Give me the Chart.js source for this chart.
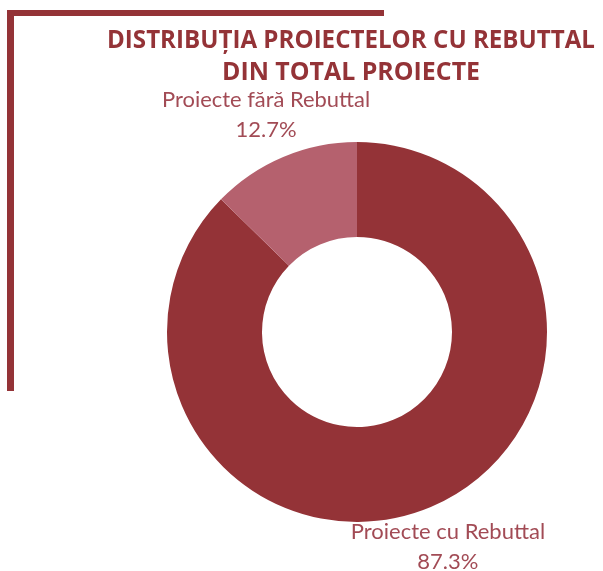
<!DOCTYPE html>
<html>
<head>
<meta charset="utf-8">
<script src="https://cdn.jsdelivr.net/npm/chart.js@4"></script>
<style>
  html, body { margin: 0; padding: 0; background: #fff; }
  #wrap { width: 603px; height: 571px; position: relative; }
</style>
</head>
<body>
<div id="wrap"><canvas id="donut" width="603" height="571"></canvas></div>
<script>
// Data
const categories = ['Proiecte cu Rebuttal', 'Proiecte fără Rebuttal'];
const shares = [87.3, 12.7];
const sliceColors = ['#943337', '#B5616E'];
const titleLines = ['DISTRIBUȚIA PROIECTELOR CU REBUTTAL', 'DIN TOTAL PROIECTE'];

const DARK = '#943337';
const LABEL_COLOR = '#A24B55';

// draw text, squeezed horizontally if wider than maxW
function fitText(ctx, text, x, y, maxW) {
  const w = ctx.measureText(text).width;
  ctx.save();
  ctx.translate(x, y);
  if (maxW && w > maxW) ctx.scale(maxW / w, 1);
  ctx.fillText(text, 0, 0);
  ctx.restore();
}

// Frame lines + title
const framePlugin = {
  id: 'frame',
  beforeDraw(chart) {
    const ctx = chart.ctx;
    ctx.save();
    ctx.fillStyle = DARK;
    ctx.fillRect(7, 10, 377, 6);   // top bar
    ctx.fillRect(7, 10, 7, 381);   // left bar
    ctx.font = "bold 25px 'Open Sans', sans-serif";
    ctx.textAlign = 'center';
    ctx.textBaseline = 'alphabetic';
    fitText(ctx, titleLines[0], 351, 48, 488);
    fitText(ctx, titleLines[1], 351, 80, 258);
    ctx.restore();
  }
};

// Outside labels: name + percentage along the slice mid angle
const outLabels = {
  id: 'outLabels',
  afterDatasetsDraw(chart) {
    const ctx = chart.ctx;
    const meta = chart.getDatasetMeta(0);
    ctx.save();
    ctx.fillStyle = LABEL_COLOR;
    ctx.textAlign = 'center';
    ctx.textBaseline = 'alphabetic';
    ctx.font = "22px 'Lato', sans-serif";
    meta.data.forEach((arc, i) => {
      const p = arc.getProps(['x', 'y', 'startAngle', 'endAngle', 'outerRadius'], true);
      const mid = (p.startAngle + p.endAngle) / 2;
      const r = p.outerRadius + 44;
      const cx = p.x + Math.cos(mid) * r;
      const cy = p.y + Math.sin(mid) * r;
      const pct = shares[i].toFixed(1) + '%';
      fitText(ctx, categories[i], cx, cy - 9, 208);
      fitText(ctx, pct, cx, cy + 21, 0);
    });
    ctx.restore();
  }
};

new Chart(document.getElementById('donut').getContext('2d'), {
  type: 'doughnut',
  data: {
    labels: categories,
    datasets: [{
      data: shares,
      backgroundColor: sliceColors,
      borderWidth: 0
    }]
  },
  options: {
    responsive: false,
    animation: false,
    cutout: '50%',
    layout: { padding: { left: 167, right: 56, top: 142, bottom: 49 } },
    plugins: {
      legend: { display: false },
      tooltip: { enabled: false },
      title: { display: false }
    }
  },
  plugins: [framePlugin, outLabels]
});
</script>
</body>
</html>
